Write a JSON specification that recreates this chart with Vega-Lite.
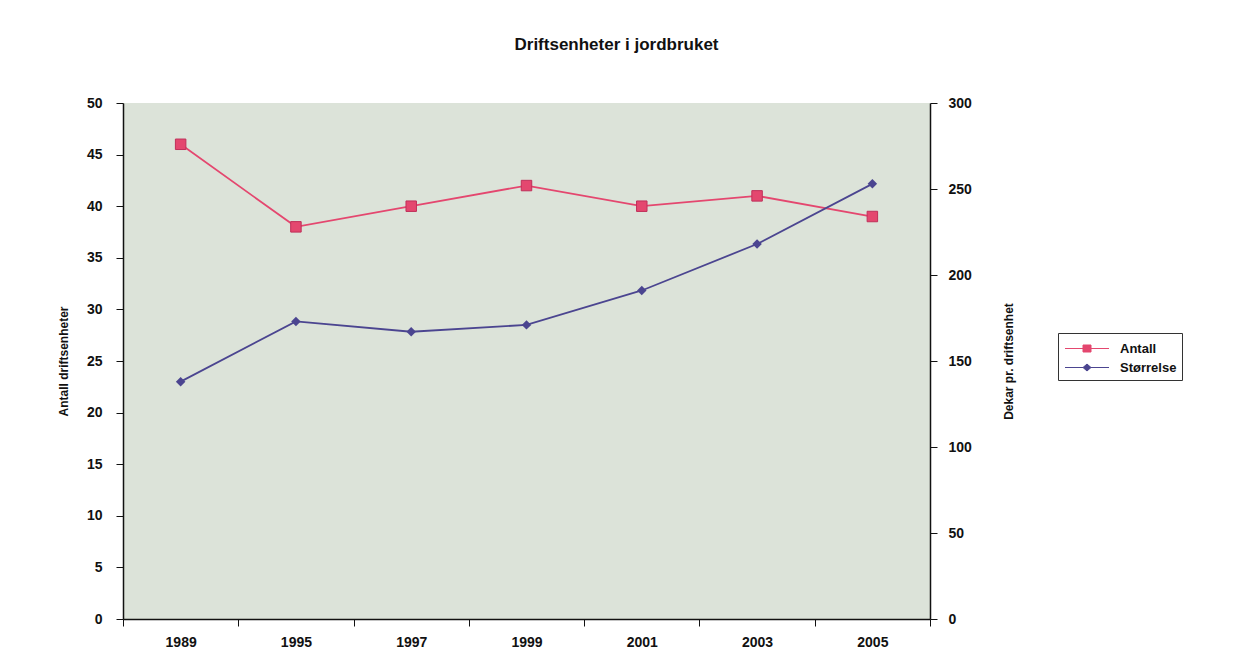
{
  "$schema": "https://vega.github.io/schema/vega-lite/v6.json",
  "width": 807,
  "height": 516,
  "autosize": {"type": "none"},
  "padding": {"left": 123, "top": 103, "right": 303, "bottom": 47},
  "background": "white",
  "title": {
    "text": "Driftsenheter i jordbruket",
    "font": "Liberation Sans",
    "fontSize": 17,
    "fontWeight": "bold",
    "color": "#111111",
    "offset": 42,
    "dx": 90
  },
  "config": {
    "view": {"fill": "#DCE3D9", "stroke": null},
    "axis": {
      "labelFont": "Liberation Sans",
      "labelFontSize": 14,
      "labelFontWeight": "bold",
      "labelColor": "#111111",
      "titleFont": "Liberation Sans",
      "titleFontSize": 12,
      "titleFontWeight": "bold",
      "titleColor": "#111111",
      "domainColor": "#111111",
      "domainWidth": 1.5,
      "tickColor": "#111111",
      "tickSize": 7,
      "grid": false
    },
    "legend": {
      "labelFont": "Liberation Sans",
      "labelFontSize": 13,
      "labelFontWeight": "bold",
      "labelColor": "#111111"
    }
  },
  "data": {
    "values": [
      {"year": "1989", "antall": 46, "storrelse": 138},
      {"year": "1995", "antall": 38, "storrelse": 173},
      {"year": "1997", "antall": 40, "storrelse": 167},
      {"year": "1999", "antall": 42, "storrelse": 171},
      {"year": "2001", "antall": 40, "storrelse": 191},
      {"year": "2003", "antall": 41, "storrelse": 218},
      {"year": "2005", "antall": 39, "storrelse": 253}
    ]
  },
  "encoding": {
    "x": {
      "field": "year",
      "type": "ordinal",
      "scale": {"type": "band", "paddingInner": 0, "paddingOuter": 0},
      "axis": {"title": null, "labelAngle": 0, "tickBand": "extent", "labelPadding": 9}
    }
  },
  "layer": [
    {
      "encoding": {
        "y": {
          "field": "antall",
          "type": "quantitative",
          "scale": {"domain": [0, 50]},
          "axis": {
            "orient": "left",
            "title": "Antall driftsenheter",
            "values": [0, 5, 10, 15, 20, 25, 30, 35, 40, 45, 50],
            "labelPadding": 14,
            "titlePadding": 16
          }
        },
        "color": {
          "datum": "Antall",
          "type": "nominal",
          "scale": {"domain": ["Antall", "Størrelse"], "range": ["#E4476F", "#4B4590"]},
          "legend": {
            "title": null,
            "orient": "none",
            "legendX": 935,
            "legendY": 230,
            "strokeColor": "#333333",
            "fillColor": "white",
            "padding": 5,
            "symbolSize": 400,
            "symbolStrokeWidth": 1,
            "labelOffset": 36,
            "rowPadding": 1,
            "encode": {
              "symbols": {
                "update": {
                  "shape": {"signal": "datum.value === 'Antall' ? 'M-2.2,0H-0.4M0.4,0H2.2M-0.4,-0.35H0.4V0.35H-0.4Z' : 'M-2.2,0H-0.4M0.4,0H2.2M0,-0.35L0.4,0L0,0.35L-0.4,0Z'"},
                  "stroke": {"signal": "datum.value === 'Antall' ? '#E4476F' : '#4B4590'"},
                  "fill": {"signal": "datum.value === 'Antall' ? '#E4476F' : '#5B50A8'"},
                  "strokeWidth": {"value": 1},
                  "x": {"value": 24}
                }
              }
            }
          }
        }
      },
      "layer": [
        {"mark": {"type": "line", "strokeWidth": 1.8}},
        {"mark": {"type": "point", "shape": "square", "filled": true, "size": 110, "opacity": 1, "stroke": "#C0305A", "strokeWidth": 1}}
      ]
    },
    {
      "encoding": {
        "y": {
          "field": "storrelse",
          "type": "quantitative",
          "scale": {"domain": [0, 300]},
          "axis": {
            "orient": "right",
            "title": "Dekar pr. driftsenhet",
            "titleAngle": 270,
            "values": [0, 50, 100, 150, 200, 250, 300],
            "labelPadding": 11,
            "titlePadding": 44
          }
        },
        "color": {"datum": "Størrelse", "type": "nominal"}
      },
      "layer": [
        {"mark": {"type": "line", "strokeWidth": 1.8}},
        {"mark": {"type": "point", "shape": "diamond", "filled": true, "size": 90, "opacity": 1, "color": "#5B50A8"}}
      ]
    }
  ],
  "resolve": {"scale": {"y": "independent"}}
}
